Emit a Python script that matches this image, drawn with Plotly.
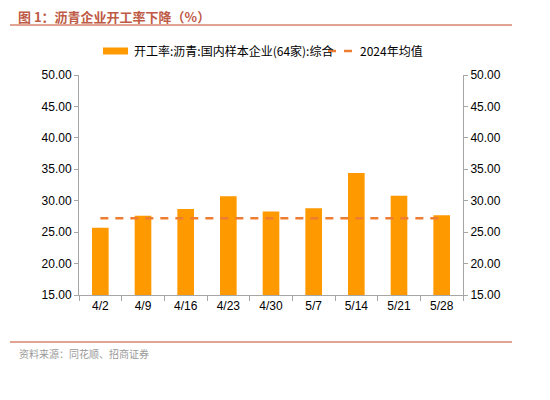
import plotly.graph_objects as go

categories = ["4/2", "4/9", "4/16", "4/23", "4/30", "5/7", "5/14", "5/21", "5/28"]
utilization = [25.7, 27.6, 28.7, 30.7, 28.3, 28.8, 34.4, 30.8, 27.7]
avg_2024 = 27.2
bar_name = "开工率:沥青:国内样本企业(64家):综合"
line_name = "2024年均值"
title_text = "图 1：沥青企业开工率下降（%）"
source_text = "资料来源：同花顺、招商证券"

BAR_COLOR = "#FF9900"
LINE_COLOR = "#ED7D31"

W, H = 550, 400
L, R, T, B = 79, 463, 75, 295
pw, ph = R - L, B - T


def px(x):
    return (x - L) / pw


def py(y):
    return (B - y) / ph


font_main = "Liberation Sans, Arial, Noto Sans CJK SC, sans-serif"
font_cjk = "Noto Sans CJK SC, sans-serif"

fig = go.Figure()
fig.add_trace(go.Bar(
    x=categories, y=utilization, name=bar_name,
    marker=dict(color=BAR_COLOR, line=dict(width=0)),
    width=0.39, yaxis="y", showlegend=False,
))
fig.add_trace(go.Scatter(
    x=categories, y=[avg_2024] * len(categories), name=line_name,
    mode="lines", line=dict(color=LINE_COLOR, width=2.5, dash="8px,7px"),
    yaxis="y2", showlegend=False,
))

axis_common = dict(
    range=[15, 50], dtick=5, tick0=15, tickformat=".2f",
    showgrid=False, zeroline=False, showline=True, linecolor="#A6A6A6",
    linewidth=1, ticks="outside", ticklen=4, tickcolor="#A6A6A6",
    tickfont=dict(family=font_main, size=12, color="#000000"),
)

fig.update_layout(
    width=W, height=H,
    margin=dict(l=L, r=W - R, t=T, b=H - B, autoexpand=False),
    paper_bgcolor="white", plot_bgcolor="white",
    showlegend=False,
    xaxis=dict(
        type="category", showgrid=False, zeroline=False, showline=True,
        linecolor="#A6A6A6", linewidth=1, ticks="outside", ticklen=5,
        tickcolor="#A6A6A6", tickson="boundaries",
        tickfont=dict(family=font_main, size=12, color="#000000"),
    ),
    yaxis=dict(side="left", **axis_common),
    yaxis2=dict(side="right", overlaying="y", **axis_common),
    bargap=0.61,
)

# custom legend (wide swatch like the reference)
fig.add_shape(type="rect", xref="paper", yref="paper",
              x0=px(103), x1=px(128), y0=py(54.5), y1=py(47.5),
              fillcolor=BAR_COLOR, line=dict(width=0))
fig.add_annotation(text=bar_name, xref="paper", yref="paper",
                   x=px(132), y=py(51), xanchor="left", yanchor="middle",
                   showarrow=False,
                   font=dict(family=font_cjk, size=12, color="#000000"))
fig.add_shape(type="line", xref="paper", yref="paper",
              x0=px(328), x1=px(352), y0=py(51), y1=py(51),
              line=dict(color=LINE_COLOR, width=2.5, dash="8px,8px"))
fig.add_annotation(text=line_name, xref="paper", yref="paper",
                   x=px(358), y=py(51), xanchor="left", yanchor="middle",
                   showarrow=False,
                   font=dict(family=font_cjk, size=12, color="#000000"))

fig.add_annotation(
    text="<b>" + title_text + "</b>", xref="paper", yref="paper",
    x=px(16), y=py(16), xanchor="left", yanchor="middle", showarrow=False,
    font=dict(family=font_cjk, size=13, color="#BE5A45"),
)
fig.add_annotation(
    text=source_text, xref="paper", yref="paper",
    x=px(17), y=py(353), xanchor="left", yanchor="middle", showarrow=False,
    font=dict(family=font_cjk, size=10, color="#9A9A9A"),
)
fig.add_shape(type="line", xref="paper", yref="paper",
              x0=px(10), x1=px(512), y0=py(25), y1=py(25),
              line=dict(color="#D9866E", width=1.5))
fig.add_shape(type="line", xref="paper", yref="paper",
              x0=px(10), x1=px(512), y0=py(342), y1=py(342),
              line=dict(color="#D9866E", width=1.5))

fig.write_html("out.html", config={"displayModeBar": False},
               post_script="document.body.style.margin='0';")
